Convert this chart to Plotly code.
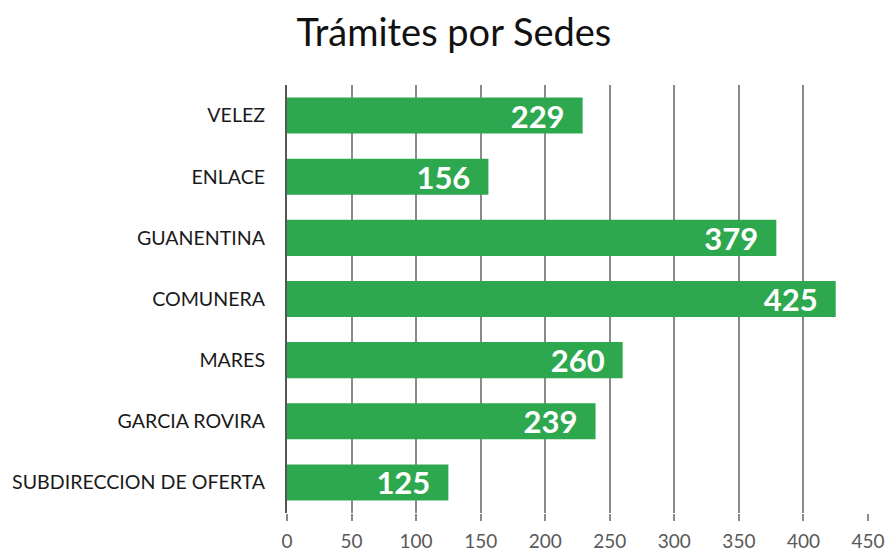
import plotly.graph_objects as go

categories = ["VELEZ", "ENLACE", "GUANENTINA", "COMUNERA", "MARES", "GARCIA ROVIRA", "SUBDIRECCION DE OFERTA"]
values = [229, 156, 379, 425, 260, 239, 125]
tick_vals = [0, 50, 100, 150, 200, 250, 300, 350, 400, 450]

fig = go.Figure(go.Bar(
    y=categories,
    x=values,
    orientation="h",
    marker=dict(color="#2EA84F", line=dict(width=0)),
    texttemplate="%{x}\u00a0\u00a0",
    textposition="inside",
    insidetextanchor="end",
    constraintext="none",
    textfont=dict(family="Lato", size=31, color="white", weight="bold"),
    cliponaxis=False,
))

fig.update_layout(
    width=890, height=552,
    margin=dict(l=287, r=22, t=85, b=39, autoexpand=False),
    plot_bgcolor="white", paper_bgcolor="white",
    title=dict(text="Trámites por Sedes", x=0.51, xanchor="center", y=0.94, yanchor="middle",
               font=dict(family="Lato", size=38, color="#111")),
    bargap=0.41,
    showlegend=False,
)
fig.update_xaxes(
    range=[0, 450], tickvals=tick_vals, showgrid=True, gridcolor="#8a8a8a", gridwidth=2,
    zeroline=False, showline=False, automargin=False,
    ticks="outside", ticklen=7, tickwidth=2, tickcolor="#8a8a8a",
    tickfont=dict(family="Lato", size=19, color="#595959"), ticklabelstandoff=4,
)
fig.update_yaxes(
    autorange="reversed", showline=True, linecolor="#555", linewidth=2, automargin=False,
    ticks="", tickfont=dict(family="Lato", size=19.6, color="#1a1a1a"), ticklabelstandoff=16,
)

fig.write_html(
    "out.html",
    config={"displayModeBar": False},
    post_script="document.body.style.margin='0';document.body.style.overflow='hidden';",
)
